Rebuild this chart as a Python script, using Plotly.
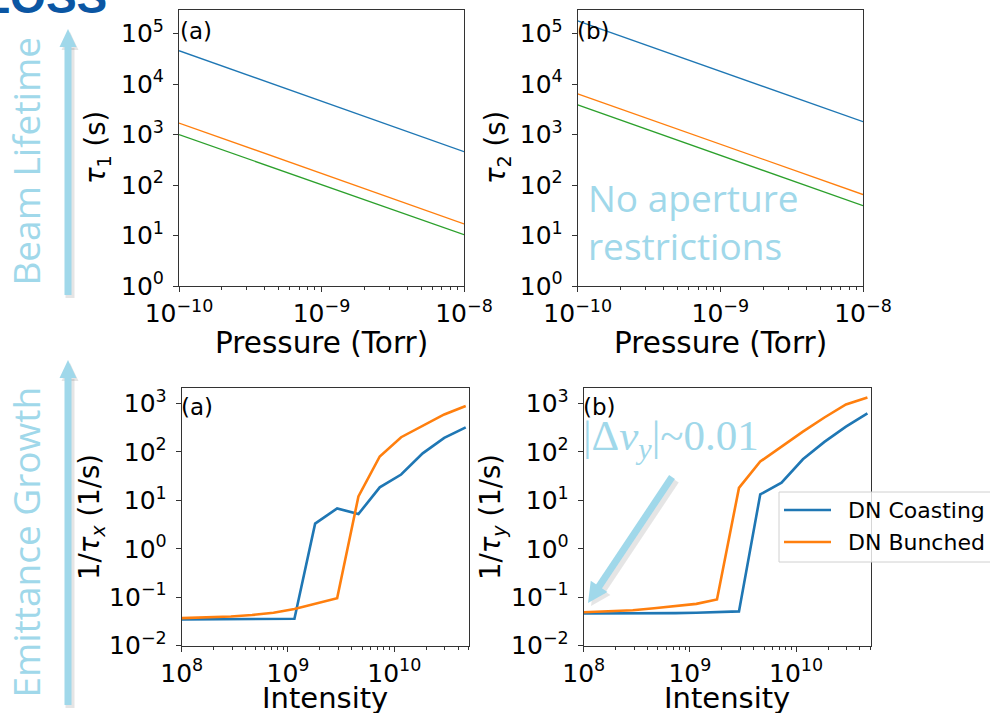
import math
import plotly.graph_objects as go

# ---------------- data ----------------
pressure = [1e-10, 1e-8]
tau1_blue = [4.6e4, 4.6e2]
tau1_orange = [1.7e3, 17]
tau1_green = [1.0e3, 10.4]
tau2_blue = [1.8e5, 1.8e3]
tau2_orange = [6.4e3, 65]
tau2_green = [3.9e3, 39]

intensity = [1e8, 1.8e8, 2.9e8, 4.6e8, 7.3e8, 1.15e9, 1.8e9, 2.9e9, 4.6e9,
             7.3e9, 1.16e10, 1.85e10, 2.95e10, 4.7e10]
coasting_x = [0.035, 0.035, 0.035, 0.0355, 0.0355, 0.036, 3.3, 6.8, 5.2,
              18.5, 34, 93, 193, 320]
bunched_x = [0.037, 0.038, 0.040, 0.043, 0.048, 0.057, 0.073, 0.095, 12,
             80, 200, 345, 590, 880]
coasting_y = [0.046, 0.046, 0.046, 0.047, 0.047, 0.048, 0.049, 0.051, 13.2,
              23, 70, 160, 330, 620]
bunched_y = [0.049, 0.051, 0.054, 0.059, 0.065, 0.073, 0.09, 18, 63,
             130, 260, 510, 950, 1320]
legend_names = ["DN Coasting", "DN Bunched"]

top_yticks = [1, 10, 100, 1e3, 1e4, 1e5]
top_yticktext = ["10<sup>0</sup>", "10<sup>1</sup>", "10<sup>2</sup>",
                 "10<sup>3</sup>", "10<sup>4</sup>", "10<sup>5</sup>"]
top_xticks = [1e-10, 1e-9, 1e-8]
top_xticktext = ["10<sup>−10</sup>", "10<sup>−9</sup>", "10<sup>−8</sup>"]
bot_yticks = [1e-2, 1e-1, 1, 10, 100, 1e3]
bot_yticktext = ["10<sup>−2</sup>", "10<sup>−1</sup>", "10<sup>0</sup>",
                 "10<sup>1</sup>", "10<sup>2</sup>", "10<sup>3</sup>"]
bot_xticks = [1e8, 1e9, 1e10]
bot_xticktext = ["10<sup>8</sup>", "10<sup>9</sup>", "10<sup>10</sup>"]

BLUE, ORANGE, GREEN = "#1f77b4", "#ff7f0e", "#2ca02c"
LB = "#a0d8ea"
W, H = 990, 713


def px(x):
    return x / W


def py(y):
    return 1 - y / H


fig = go.Figure()

# top panels
for xs, ys, c in [(pressure, tau1_blue, BLUE), (pressure, tau1_orange, ORANGE),
                  (pressure, tau1_green, GREEN)]:
    fig.add_trace(go.Scatter(x=xs, y=ys, mode="lines", line=dict(color=c, width=1.3),
                             xaxis="x", yaxis="y", showlegend=False))
for xs, ys, c in [(pressure, tau2_blue, BLUE), (pressure, tau2_orange, ORANGE),
                  (pressure, tau2_green, GREEN)]:
    fig.add_trace(go.Scatter(x=xs, y=ys, mode="lines", line=dict(color=c, width=1.3),
                             xaxis="x2", yaxis="y2", showlegend=False))
# bottom panels
fig.add_trace(go.Scatter(x=intensity, y=coasting_x, mode="lines", line=dict(color=BLUE, width=2.6),
                         xaxis="x3", yaxis="y3", showlegend=False))
fig.add_trace(go.Scatter(x=intensity, y=bunched_x, mode="lines", line=dict(color=ORANGE, width=2.6),
                         xaxis="x3", yaxis="y3", showlegend=False))
fig.add_trace(go.Scatter(x=intensity, y=coasting_y, mode="lines", line=dict(color=BLUE, width=2.6),
                         xaxis="x4", yaxis="y4", name=legend_names[0], showlegend=False))
fig.add_trace(go.Scatter(x=intensity, y=bunched_y, mode="lines", line=dict(color=ORANGE, width=2.6),
                         xaxis="x4", yaxis="y4", name=legend_names[1], showlegend=False))

TICKFONT = dict(family="DejaVu Sans", size=25, color="black")


def minor_vals(e0, e1):
    return [k * 10.0 ** e for e in range(e0, e1) for k in range(2, 10)]


def axis(domain, rng, tv, tt, anchor, minor=None, standoff=0):
    d = dict(type="log", domain=domain, range=rng, tickmode="array", tickvals=tv, ticktext=tt,
             showline=True, linecolor="#333", linewidth=1, mirror=True, ticks="outside",
             ticklen=5, tickwidth=1, tickcolor="#333", showgrid=False, zeroline=False,
             tickfont=TICKFONT, anchor=anchor, automargin=False, ticklabelstandoff=standoff)
    if minor is not None:
        d["minor"] = dict(tickvals=minor, ticks="outside", ticklen=3, tickwidth=0.8,
                          tickcolor="#333", showgrid=False)
    return d


ytop = [py(286), py(10)]
ybot = [py(645.7), py(388.3)]
fig.update_layout(
    width=W, height=H, margin=dict(l=0, r=0, t=0, b=0, autoexpand=False),
    paper_bgcolor="white", plot_bgcolor="white", showlegend=False,
    xaxis=axis([px(179), px(464)], [-10, -8], top_xticks, top_xticktext, "y",
               minor_vals(-10, -8)),
    yaxis=axis(ytop, [0, 5.47], top_yticks, top_yticktext, "x", standoff=4),
    xaxis2=axis([px(577.7), px(863)], [-10, -8], top_xticks, top_xticktext, "y2",
                minor_vals(-10, -8)),
    yaxis2=axis(ytop, [0, 5.47], top_yticks, top_yticktext, "x2", standoff=4),
    xaxis3=axis([px(181.7), px(469)], [8, 10.703], bot_xticks, bot_xticktext, "y3",
                minor_vals(8, 11)),
    yaxis3=axis(ybot, [-2, 3.31], bot_yticks, bot_yticktext, "x3", standoff=4),
    xaxis4=axis([px(583.7), px(870.7)], [8, 10.703], bot_xticks, bot_xticktext, "y4",
                minor_vals(8, 11)),
    yaxis4=axis(ybot, [-2, 3.31], bot_yticks, bot_yticktext, "x4", standoff=4),
)

ann = []


def text(x, y, s, size, family="DejaVu Sans", color="black", xanchor="center",
         yanchor="middle", angle=0):
    ann.append(dict(x=px(x), y=py(y), xref="paper", yref="paper", text=s, showarrow=False,
                    xanchor=xanchor, yanchor=yanchor, textangle=angle,
                    font=dict(family=family, size=size, color=color)))


# axis titles
text(321.5, 343, "Pressure (Torr)", 29.5)
text(720.4, 343, "Pressure (Torr)", 29.5)
text(325, 698, "Intensity", 29)
text(727, 698, "Intensity", 29)
text(97, 148, "<i>τ</i><sub>1</sub> (s)", 27.5, angle=-90)
text(497, 148, "<i>τ</i><sub>2</sub> (s)", 27.5, angle=-90)
text(91, 517, "1/<i>τ</i><sub><i>x</i></sub> (1/s)", 27.5, angle=-90)
text(492, 517, "1/<i>τ</i><sub><i>y</i></sub> (1/s)", 27.5, angle=-90)
# panel labels
text(178, 31, "(a)", 23, xanchor="left")
text(575, 31, "(b)", 23, xanchor="left")
text(179, 407, "(a)", 23, xanchor="left")
text(581, 407, "(b)", 23, xanchor="left")
# slide annotations
text(109, -3, "<b>LOSS</b>", 46, family="Liberation Sans", color="#0b56a3", xanchor="right")
text(24.6, 161, "Beam Lifetime", 37, family="Open Sans", color=LB, angle=-90)
text(24.6, 542, "Emittance Growth", 37, family="Open Sans", color=LB, angle=-90)
text(586, 197, "No aperture", 37, family="Open Sans", color=LB, xanchor="left")
text(586, 246, "restrictions", 37, family="Open Sans", color=LB, xanchor="left")
text(581, 439, "|Δ<i>ν</i><sub><i>y</i></sub>|~0.01", 43, family="Liberation Serif",
     color=LB, xanchor="left")

shapes = []

# legend (drawn manually so it can run off the right edge like the reference)
shapes.append(dict(type="rect", xref="paper", yref="paper", x0=px(779), x1=px(1005),
                   y0=py(562), y1=py(492), fillcolor="rgba(255,255,255,0.8)",
                   line=dict(color="#d0d0d0", width=1)))
for i, (nm, c) in enumerate(zip(legend_names, [BLUE, ORANGE])):
    yy = 510 + 32 * i
    shapes.append(dict(type="line", xref="paper", yref="paper", x0=px(784), x1=px(831),
                       y0=py(yy), y1=py(yy), line=dict(color=c, width=2.6)))
    text(846, yy, nm, 22, xanchor="left")

fig.update_layout(annotations=ann)


def arrow(x0, y0, x1, y1, head_len=18, half_w=8.5, width=7, color=LB, dx=0, dy=0):
    L = math.hypot(x1 - x0, y1 - y0)
    ux, uy = (x1 - x0) / L, (y1 - y0) / L
    nx, ny = -uy, ux
    bx, by = x1 - head_len * ux, y1 - head_len * uy
    shapes.append(dict(type="line", xref="paper", yref="paper",
                       x0=px(x0 + dx), y0=py(y0 + dy), x1=px(bx + ux * 2 + dx), y1=py(by + uy * 2 + dy),
                       line=dict(color=color, width=width)))
    path = "M {} {} L {} {} L {} {} Z".format(
        px(x1 + dx), py(y1 + dy),
        px(bx + half_w * nx + dx), py(by + half_w * ny + dy),
        px(bx - half_w * nx + dx), py(by - half_w * ny + dy))
    shapes.append(dict(type="path", xref="paper", yref="paper", path=path,
                       fillcolor=color, line=dict(color=color, width=0)))


SH = "rgba(0,0,0,0.10)"
arrow(68, 295, 68, 29, color=SH, dx=2, dy=3, width=9)
arrow(68, 295, 68, 29)
arrow(68, 705, 68, 360, color=SH, dx=2, dy=3, width=9)
arrow(68, 705, 68, 360)
arrow(672, 477, 588, 603, head_len=20, half_w=10, color=SH, dx=3, dy=3, width=9)
arrow(672, 477, 588, 603, head_len=20, half_w=10)
fig.update_layout(shapes=shapes)

fig.write_html("out.html", config={"displayModeBar": False},
               post_script="document.body.style.margin='0';document.body.style.overflow='hidden';")
